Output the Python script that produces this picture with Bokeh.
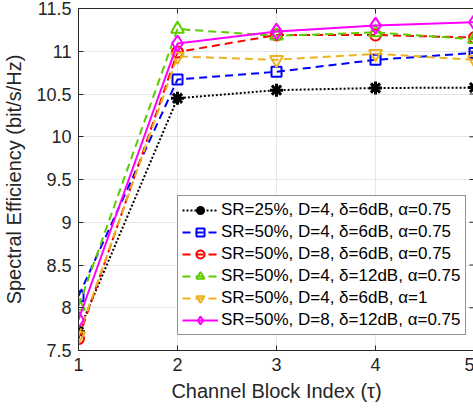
import math
from bokeh.plotting import figure
from bokeh.models import Range1d, Legend, LegendItem, FixedTicker
from bokeh.embed import file_html
from bokeh.resources import INLINE

blocks = [1, 2, 3, 4, 5]
se_sr25_d4_6db_a075 = [7.72, 10.45, 10.545, 10.57, 10.575]
se_sr50_d4_6db_a075 = [8.135, 10.67, 10.76, 10.90, 10.98]
se_sr50_d8_6db_a075 = [7.64, 10.99, 11.19, 11.19, 11.16]
se_sr50_d4_12db_a075 = [8.02, 11.26, 11.18, 11.22, 11.14]
se_sr50_d4_6db_a1 = [7.67, 10.94, 10.90, 10.97, 10.90]
se_sr50_d8_12db_a075 = [7.86, 11.09, 11.23, 11.30, 11.34]

labels = [
    "SR=25%, D=4, δ=6dB, α=0.75",
    "SR=50%, D=4, δ=6dB, α=0.75",
    "SR=50%, D=8, δ=6dB, α=0.75",
    "SR=50%, D=4, δ=12dB, α=0.75",
    "SR=50%, D=4, δ=6dB, α=1",
    "SR=50%, D=8, δ=12dB, α=0.75",
]
x_ticks = [1, 2, 3, 4, 5]
y_ticks = [7.5, 8, 8.5, 9, 9.5, 10, 10.5, 11, 11.5]
x_min, x_max = 1, 5
y_min, y_max = 7.5, 11.5

FONT = "Liberation Sans"
AX = "#262626"

p = figure(width=474, height=408, output_backend="svg", toolbar_location=None,
           x_range=Range1d(x_min, x_max), y_range=Range1d(y_min, y_max),
           min_border_left=69, min_border_right=0, min_border_top=8, min_border_bottom=58)
p.outline_line_color = AX
p.outline_line_width = 1
p.background_fill_color = "white"

for ax in (p.xaxis[0], p.yaxis[0]):
    ax.axis_line_color = AX
    ax.major_tick_line_color = AX
    ax.major_tick_in = 5
    ax.major_tick_out = 0
    ax.minor_tick_line_color = None
    ax.major_label_text_font = FONT
    ax.major_label_text_font_size = "18px"
    ax.major_label_text_color = AX
    ax.axis_label_text_font = FONT
    ax.axis_label_text_font_size = "20px"
    ax.axis_label_text_font_style = "normal"
    ax.axis_label_text_color = AX

p.xaxis[0].ticker = FixedTicker(ticks=x_ticks)
p.yaxis[0].ticker = FixedTicker(ticks=y_ticks)
p.xaxis[0].axis_label = "Channel Block Index (τ)"
p.yaxis[0].axis_label = "Spectral Efficiency (bit/s/Hz)"
p.xaxis[0].major_label_standoff = 7
p.yaxis[0].major_label_standoff = 7
p.xaxis[0].axis_label_standoff = 6
p.yaxis[0].axis_label_standoff = 8

p.xgrid.ticker = FixedTicker(ticks=x_ticks)
p.ygrid.ticker = FixedTicker(ticks=y_ticks)
p.grid.grid_line_color = "#e6e6e6"
p.grid.grid_line_width = 1

# inward tick marks on the top and right edges of the box (from the tick lists)
p.scatter(x_ticks, [y_max] * len(x_ticks), marker="dash", size=10, angle=math.pi / 2,
          line_color=AX, line_width=1)
p.scatter([x_max] * len(y_ticks), y_ticks, marker="dash", size=10,
          line_color=AX, line_width=1)

series = [
    (se_sr25_d4_6db_a075, "black", "2 2", "asterisk", 13),
    (se_sr50_d4_6db_a075, "#0000ff", "8 5", "square", 10),
    (se_sr50_d8_6db_a075, "#ff0000", "8 5", "circle", 11),
    (se_sr50_d4_12db_a075, "#5ccc00", "8 5", "triangle", 13),
    (se_sr50_d4_6db_a1, "#edb120", "8 5", "inverted_triangle", 13),
    (se_sr50_d8_12db_a075, "#ff00ff", "solid", "diamond", 16),
]

items = []
for (ys, col, dash, mk, sz), lab in zip(series, labels):
    ln = p.line(blocks, ys, line_color=col, line_width=2, line_dash=dash)
    if mk == "asterisk":
        m1 = p.scatter(blocks, ys, marker="asterisk", size=sz, line_color=col, line_width=3)
        m2 = p.scatter(blocks, ys, marker="circle", size=5, line_color=col, fill_color=col)
        rs = [ln, m1, m2]
    else:
        m1 = p.scatter(blocks, ys, marker=mk, size=sz, line_color=col, line_width=2,
                       fill_color="white", fill_alpha=0.0)
        rs = [ln, m1]
    items.append(LegendItem(label=lab, renderers=rs))

leg = Legend(items=items, location=(99, 15))
leg.label_text_font = FONT
leg.label_text_font_size = "17px"
leg.label_text_color = "black"
leg.glyph_width = 36
leg.glyph_height = 20
leg.label_height = 20
leg.spacing = 2
leg.padding = 4
leg.label_standoff = 3
leg.border_line_color = AX
leg.border_line_width = 1
leg.background_fill_color = "white"
leg.background_fill_alpha = 1.0
p.add_layout(leg, "center")

html = file_html(p, INLINE)
html = html.replace("<body>", '<body style="overflow:hidden">', 1)
open("out.html", "w").write(html)
